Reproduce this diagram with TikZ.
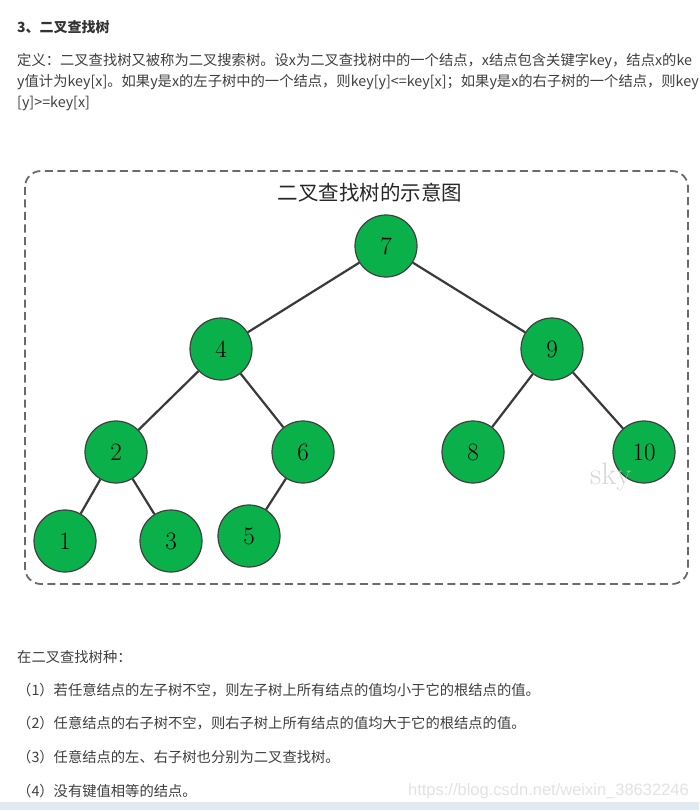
\documentclass[tikz,border=0pt]{standalone}
\usepackage{fontspec}
\newfontfamily\cjk{Noto Sans CJK SC}
\newfontfamily\wmfont{Liberation Sans}
\definecolor{txt}{HTML}{3F3F3F}
\definecolor{nodegreen}{HTML}{0AB14A}
\definecolor{boxgray}{HTML}{6A6A6A}
\definecolor{edgegray}{HTML}{3A3A3A}
\definecolor{stripblue}{HTML}{E3E9F1}
\tikzset{
  bst/.style={circle, draw=black!75, line width=1.2pt, fill=nodegreen, minimum size=62pt, inner sep=0pt, font=\fontsize{25}{25}\selectfont},
  edge/.style={draw=edgegray, line width=2.2pt},
  body/.style={anchor=west, inner sep=0pt, text=txt, font=\cjk\fontsize{14.3}{16}\selectfont},
}
\begin{document}
\begin{tikzpicture}[x=1pt,y=-1pt]
\useasboundingbox (0,0) rectangle (699,810);
\fill[white] (0,0) rectangle (699,810);
% header and definition
\node[body, font=\cjk\bfseries\fontsize{14}{16}\selectfont, text=black!80] (hdr) at (17,27) {3、二叉查找树};
\node[body] (d1) at (17,61) {定义：二叉查找树又被称为二叉搜索树。设x为二叉查找树中的一个结点，x结点包含关键字key，结点x的ke};
\node[body] (d2) at (17,82) {y值计为key[x]。如果y是x的左子树中的一个结点，则key[y]<=key[x]；如果y是x的右子树的一个结点，则key};
\node[body] (d3) at (17,103) {[y]>=key[x]};
% figure frame
\draw[boxgray, line width=1.8pt, dash pattern=on 8pt off 4.5pt, rounded corners=16pt] (25,171) rectangle (688,584);
\node[inner sep=0pt, text=black!85, font=\cjk\fontsize{20.5}{22}\selectfont] (title) at (370,193) {二叉查找树的示意图};
% tree nodes
\node[bst] (n7) at (386,246) {7};
\node[bst] (n4) at (221,349) {4};
\node[bst] (n9) at (552,349) {9};
\node[bst] (n2) at (116,452) {2};
\node[bst] (n6) at (303,452) {6};
\node[bst] (n8) at (473,452) {8};
\node[bst] (n10) at (644,452) {10};
\node[bst] (n1) at (65,541) {1};
\node[bst] (n3) at (171,541) {3};
\node[bst] (n5) at (249,536) {5};
\path[edge] (n7) -- (n4);
\path[edge] (n7) -- (n9);
\path[edge] (n4) -- (n2);
\path[edge] (n4) -- (n6);
\path[edge] (n9) -- (n8);
\path[edge] (n9) -- (n10);
\path[edge] (n2) -- (n1);
\path[edge] (n2) -- (n3);
\path[edge] (n6) -- (n5);
\node[anchor=base west, inner sep=0pt, text=gray!45, opacity=0.7, font=\fontsize{31}{31}\selectfont] (sky) at (590,484) {sky};
% bottom text
\node[body] (b0) at (17,657) {在二叉查找树种：};
\node[body] (b1) at (17,690) {（1）若任意结点的左子树不空，则左子树上所有结点的值均小于它的根结点的值。};
\node[body] (b2) at (17,723) {（2）任意结点的右子树不空，则右子树上所有结点的值均大于它的根结点的值。};
\node[body] (b3) at (17,757) {（3）任意结点的左、右子树也分别为二叉查找树。};
\node[body] (b4) at (17,791) {（4）没有键值相等的结点。};
\node[anchor=east, inner sep=0pt, text=gray!22, font=\wmfont\fontsize{16.5}{18}\selectfont] (wm) at (689,791) {https://blog.csdn.net/weixin\_38632246};
\fill[stripblue] (0,802) rectangle (699,810);
\end{tikzpicture}
\end{document}
